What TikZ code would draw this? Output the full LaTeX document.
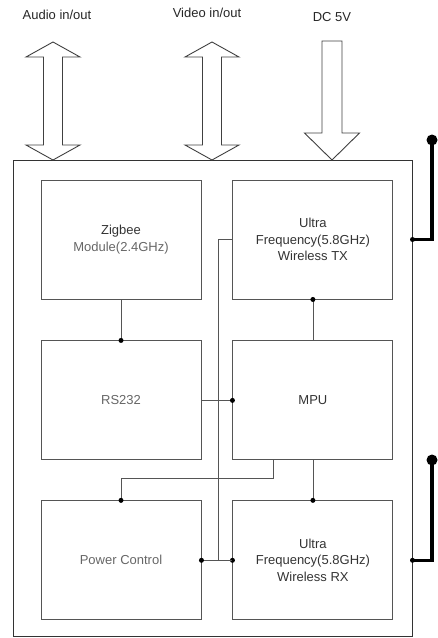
\documentclass[tikz,border=0pt]{standalone}
\usepackage{fontspec}
\setmainfont{Liberation Sans}
\usepackage{tikz}
\usetikzlibrary{positioning,calc}
\definecolor{clLine}{HTML}{555555}
\definecolor{clText}{HTML}{333333}
\definecolor{clSoft}{HTML}{666666}
\tikzset{
  block/.style={rectangle, draw=clLine, line width=0.9pt, align=center,
                minimum width=160pt, minimum height=119pt, inner sep=0pt,
                text=clText, font=\fontsize{13}{16.5}\selectfont},
  board/.style={rectangle, draw=black!80, line width=1pt, minimum width=399pt,
                minimum height=476pt, inner sep=0pt},
  wire/.style={draw=clLine, line width=0.8pt},
  tap/.style={circle, fill=black, inner sep=0pt, minimum size=5pt},
  bigarrow/.style={draw=black!75, line width=0.9pt, fill=white},
  antenna/.style={draw=black, line width=3.5pt},
  antip/.style={circle, fill=black, inner sep=0pt, minimum size=11pt},
  portlabel/.style={font=\fontsize{13}{16}\selectfont, text=black!85},
}
\begin{document}
\begin{tikzpicture}[x=1pt, y=-1pt]
  \useasboundingbox (0,0) rectangle (438,638);
  % outer board and the six blocks
  \node[board] (brd) at (212.5,398) {};
  \node[block] (zigbee) at (121,239.5) {Zigbee\\\textcolor{clSoft}{Module(2.4GHz)}};
  \node[block, right=31pt of zigbee] (txmod) {Ultra\\Frequency(5.8GHz)\\Wireless TX};
  \node[block, below=41pt of zigbee, text=clSoft] (rsport) {RS232};
  \node[block, below=41pt of txmod] (mpu) {MPU};
  \node[block, below=40pt of rsport, text=clSoft] (pwrctl) {Power Control};
  \node[block, below=40pt of mpu] (rxmod) {Ultra\\Frequency(5.8GHz)\\Wireless RX};

  % labels over the arrows
  \node[portlabel] (audio) at (57,15) {Audio in/out};
  \node[portlabel] (video) at (207,13) {Video in/out};
  \node[portlabel] (dcin) at (332,17) {DC 5V};

  % block arrows
  \foreach \cx in {53,212}{
    \draw[bigarrow] (\cx,42) -- (\cx+27,57) -- (\cx+9.5,57) -- (\cx+9.5,145)
      -- (\cx+27,145) -- (\cx,160) -- (\cx-27,145) -- (\cx-9.5,145)
      -- (\cx-9.5,57) -- (\cx-27,57) -- cycle;
  }
  \draw[bigarrow] (322,41) -- (342,41) -- (342,133) -- (359.5,133) -- (332,160)
    -- (304.5,133) -- (322,133) -- cycle;

  % wiring
  \draw[wire] (zigbee.south) -- (rsport.north) node[tap] {};
  \draw[wire] (txmod.south) node[tap] {} -- (mpu.north);
  \draw[wire] (rsport.east) -- (mpu.west) node[tap] {};
  \draw[wire] (txmod.west) -- ++(-14,0) |- (rxmod.west) node[tap] {};
  \draw[wire] (pwrctl.east) node[tap] {} -- (rxmod.west);
  \draw[wire] ($(mpu.south west)+(41,0)$) -- ++(0,18) -| (pwrctl.north) node[tap] {};
  \draw[wire] (mpu.south) -- (rxmod.north) node[tap] {};

  % antennas
  \coordinate (antA) at (brd.east |- txmod.west);
  \coordinate (antB) at (brd.east |- rxmod.west);
  \node[antip] (tipA) at (432,140) {};
  \node[antip] (tipB) at (432,460) {};
  \draw[antenna] (tipA.center) -- (tipA.center |- antA) -- (antA);
  \draw[antenna] (tipB.center) -- (tipB.center |- antB) -- (antB);
  \node[tap] at (antA) {};
  \node[tap] at (antB) {};
\end{tikzpicture}
\end{document}
